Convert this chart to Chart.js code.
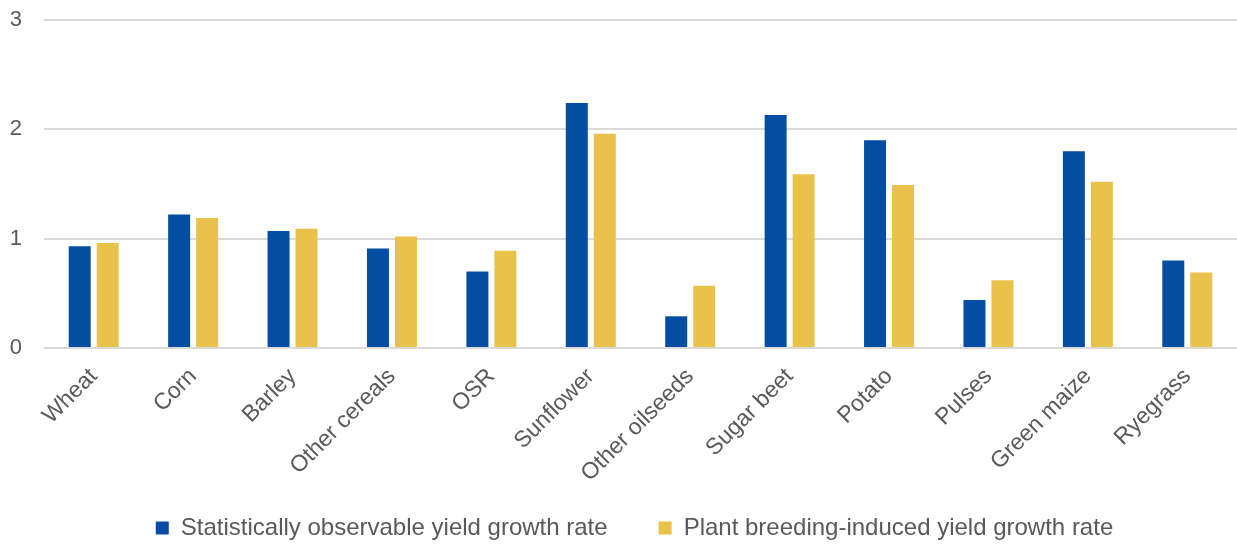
<!DOCTYPE html>
<html>
<head>
<meta charset="utf-8">
<script src="https://cdn.jsdelivr.net/npm/chart.js@4"></script>
<style>
  html, body { margin: 0; padding: 0; background: #fff; }
  #wrap { width: 1237px; height: 545px; position: relative; }
</style>
</head>
<body>
<div id="wrap"><canvas id="grafico"></canvas></div>
<script>
const culturas = ['Wheat', 'Corn', 'Barley', 'Other cereals', 'OSR', 'Sunflower', 'Other oilseeds', 'Sugar beet', 'Potato', 'Pulses', 'Green maize', 'Ryegrass'];
const observado = [0.93, 1.22, 1.07, 0.91, 0.70, 2.24, 0.29, 2.13, 1.90, 0.44, 1.80, 0.80];
const melhoramento = [0.96, 1.19, 1.09, 1.02, 0.89, 1.96, 0.57, 1.59, 1.49, 0.62, 1.52, 0.69];
const ticksY = [0, 1, 2, 3];

const corTexto = '#595959';
const fonte = 'Arial, "Liberation Sans", sans-serif';

// a legenda usa o mesmo padding na vertical e na horizontal; fixa a altura aqui
const alturaLegenda = {
  id: 'alturaLegenda',
  beforeUpdate(chart) {
    const leg = chart.legend;
    if (!leg || leg._fitOriginal) return;
    leg._fitOriginal = leg.fit;
    leg.fit = function () {
      this._fitOriginal();
      this.height = 80;
    };
  }
};

new Chart(document.getElementById('grafico').getContext('2d'), {
  type: 'bar',
  data: {
    labels: culturas,
    datasets: [
      {
        label: 'Statistically observable yield growth rate',
        data: observado,
        backgroundColor: '#034EA2',
        barPercentage: 0.786,
        categoryPercentage: 0.563
      },
      {
        label: 'Plant breeding-induced yield growth rate',
        data: melhoramento,
        backgroundColor: '#E9C24B',
        barPercentage: 0.786,
        categoryPercentage: 0.563
      }
    ]
  },
  options: {
    responsive: true,
    maintainAspectRatio: false,
    animation: false,
    layout: { padding: { top: 20, right: 0, left: 32, bottom: 0 } },
    plugins: {
      legend: {
        position: 'bottom',
        labels: {
          color: corTexto,
          font: { family: fonte, size: 24 },
          boxWidth: 13,
          boxHeight: 13,
          padding: 51
        }
      },
      tooltip: { enabled: false }
    },
    scales: {
      x: {
        grid: { display: false },
        border: { display: false },
        ticks: {
          color: corTexto,
          font: { family: fonte, size: 23 },
          maxRotation: 45,
          minRotation: 45,
          padding: 7
        },
        afterFit: s => {
          s.height = 117;
          s.paddingLeft = 0;
          s.paddingRight = 0;
          s._computeLabelArea = () => undefined;
        }
      },
      y: {
        min: 0,
        max: 3,
        afterBuildTicks: s => { s.ticks = ticksY.map(v => ({ value: v })); },
        grid: { color: '#D9D9D9', lineWidth: 2, drawTicks: false },
        border: { display: false },
        ticks: {
          color: corTexto,
          font: { family: fonte, size: 22 },
          padding: 22
        },
        afterFit: s => {
          s.width = 12;
          s.paddingTop = 0;
          s.paddingBottom = 0;
          s._computeLabelArea = () => undefined;
        }
      }
    }
  },
  plugins: [alturaLegenda]
});
</script>
</body>
</html>
